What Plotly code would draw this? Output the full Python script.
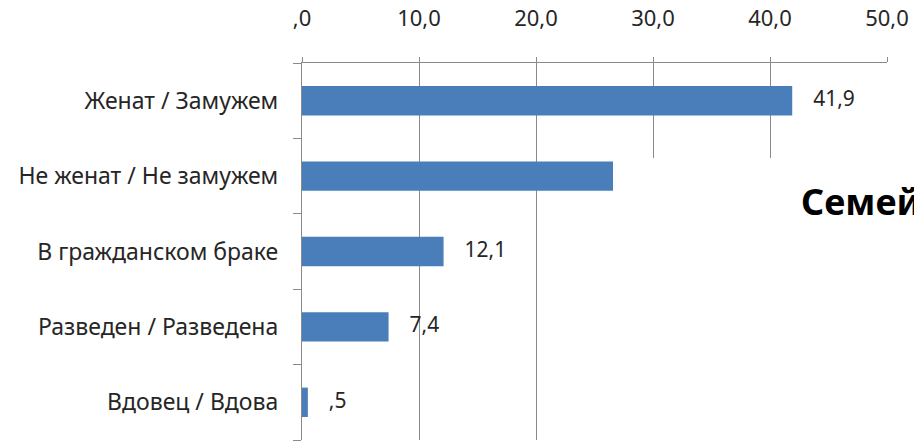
import plotly.graph_objects as go

# Marital status distribution, percent of respondents
categories = [
    "Женат / Замужем",
    "Не женат / Не замужем",
    "В гражданском браке",
    "Разведен / Разведена",
    "Вдовец / Вдова",
]
values = [41.9, 38.1, 12.1, 7.4, 0.5]
tick_values = [0, 10, 20, 30, 40, 50]
title_text = "Семейное положение"


def fmt(v):
    """Excel-style number: one decimal, comma separator, no leading zero."""
    s = f"{v:.1f}".replace(".", ",")
    return s[1:] if s.startswith("0,") else s


tick_text = [fmt(v) for v in tick_values]

FONT = "Noto Sans"
TEXT_COLOR = "#262626"
GRID = "#8a8a8a"

fig = go.Figure()
fig.add_trace(
    go.Bar(
        x=values,
        y=categories,
        orientation="h",
        width=0.39,
        marker=dict(color="#4a7ebb", line=dict(width=0)),
        hoverinfo="skip",
    )
)

# value labels to the right of each bar (kept in the data layer)
fig.add_trace(
    go.Scatter(
        x=values,
        y=categories,
        mode="text",
        text=["\u2002\u2002" + fmt(v) for v in values],
        textposition="middle right",
        textfont=dict(family=FONT, size=21, color=TEXT_COLOR),
        hoverinfo="skip",
        cliponaxis=False,
    )
)

# white slide panel lying over the lower right part of the chart
fig.add_shape(
    type="rect", xref="paper", yref="paper",
    x0=(613 - 302) / 585, x1=1.2, y0=-0.2, y1=(440 - 158) / 377,
    fillcolor="white", line=dict(width=0), layer="above",
)

fig.add_annotation(
    x=(799 - 302) / 585, y=(440 - 201) / 377, xref="paper", yref="paper",
    text=f"<b>{title_text}</b>", showarrow=False,
    xanchor="left", yanchor="middle",
    font=dict(family=FONT, size=36, color="#000000"),
)

fig.update_layout(
    width=914, height=442,
    margin=dict(l=302, r=27, t=63, b=2),
    paper_bgcolor="white", plot_bgcolor="white",
    showlegend=False,
    font=dict(family=FONT, size=21, color=TEXT_COLOR),
)

fig.update_xaxes(
    side="top", range=[0, 50],
    tickvals=tick_values, ticktext=tick_text,
    tickfont=dict(family=FONT, size=22, color=TEXT_COLOR),
    showgrid=True, gridcolor=GRID, gridwidth=1.3,
    showline=True, linecolor=GRID, linewidth=1.3,
    ticks="outside", ticklen=5, tickcolor=GRID, tickwidth=1.3,
    ticklabelstandoff=22,
    zeroline=False,
)

fig.update_yaxes(
    categoryorder="array", categoryarray=categories[::-1],
    showline=True, linecolor=GRID, linewidth=1.3,
    ticks="outside", ticklen=8, tickcolor=GRID, tickwidth=1.3,
    tickson="boundaries",
    ticklabelstandoff=18,
    tickfont=dict(family=FONT, size=23, color=TEXT_COLOR),
    showgrid=False,
)

fig.write_html("out.html")
